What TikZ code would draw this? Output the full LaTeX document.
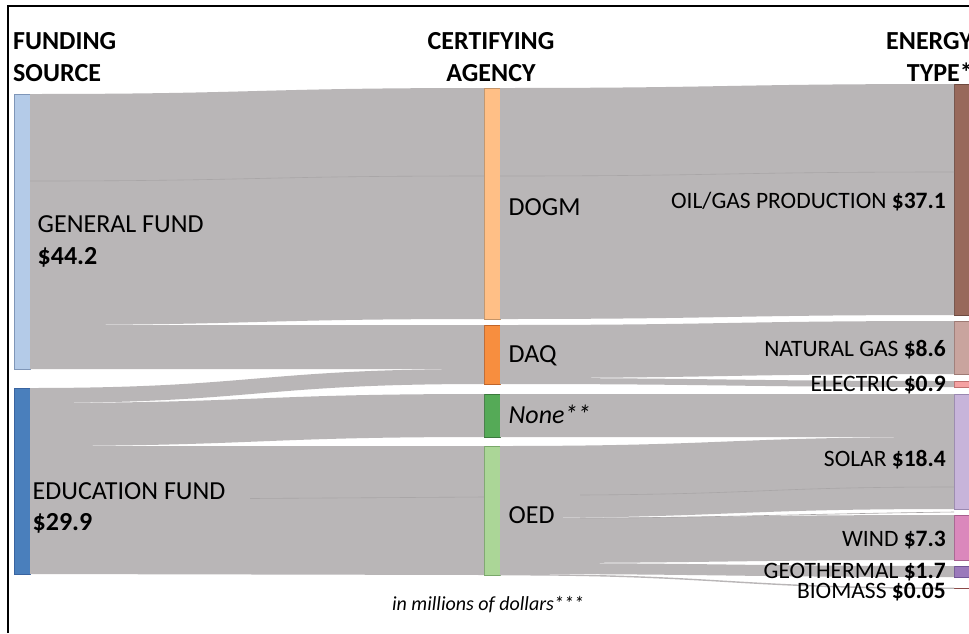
\documentclass[tikz,border=0pt]{standalone}
\usepackage{fontspec}
\setmainfont{Carlito}
\usetikzlibrary{calc}
\definecolor{flowc}{HTML}{B9B6B7}
\definecolor{seamc}{HTML}{A9A6A7}
\definecolor{gfc}{HTML}{B4CBE8}\definecolor{gfd}{HTML}{7F96B8}
\definecolor{efc}{HTML}{4A7FBC}\definecolor{efd}{HTML}{3A64A0}
\definecolor{dogmc}{HTML}{FFBF86}\definecolor{dogmd}{HTML}{C49468}
\definecolor{daqc}{HTML}{F78E3F}\definecolor{daqd}{HTML}{C0652A}
\definecolor{nonec}{HTML}{55AA57}\definecolor{noned}{HTML}{3C7A3E}
\definecolor{oedc}{HTML}{ABD697}\definecolor{oedd}{HTML}{7AA86A}
\definecolor{oilc}{HTML}{98695B}\definecolor{oild}{HTML}{6E4A40}
\definecolor{ngc}{HTML}{C9A49E}\definecolor{ngd}{HTML}{9E7A74}
\definecolor{elc}{HTML}{F5A1A2}\definecolor{eld}{HTML}{C07070}
\definecolor{solc}{HTML}{C7B4DA}\definecolor{sold}{HTML}{9A88B0}
\definecolor{windc}{HTML}{DB88BC}\definecolor{windd}{HTML}{A8608F}
\definecolor{geoc}{HTML}{9B79BB}\definecolor{geod}{HTML}{725596}
\definecolor{bioc}{HTML}{8B4A48}
\newcommand\sankeyflow[6]{%
  \fill[flowfill] let \p1=(#1.north east), \p2=(#4.north west), \n1={(\x1+\x2)/2} in
    (\x1,\y1-#2pt) .. controls (\n1,\y1-#2pt) and (\n1,\y2-#5pt) .. (\x2,\y2-#5pt)
    -- (\x2,\y2-#6pt) .. controls (\n1,\y2-#6pt) and (\n1,\y1-#3pt) .. (\x1,\y1-#3pt) -- cycle;}
\begin{document}
\begin{tikzpicture}[x=1pt,y=-1pt,
  flowfill/.style={fill=flowc},
  seam/.style={draw=seamc,line width=0.6pt},
  bar/.style={rectangle,inner sep=0pt,outer sep=0pt,minimum width=16pt,line width=0.8pt,anchor=north west},
  title/.style={font=\fontsize{26}{31}\selectfont\bfseries,inner sep=0pt},
  lab/.style={font=\fontsize{26}{31}\selectfont,inner sep=0pt,anchor=base west},
  rlab/.style={font=\fontsize{23.5}{28}\selectfont,inner sep=0pt,anchor=base east},
  note/.style={font=\fontsize{20}{24}\selectfont\itshape,inner sep=0pt,anchor=base}]
\useasboundingbox (0,0) rectangle (969,633);
\clip (0,0) rectangle (969,633);
\fill[white] (0,0) rectangle (969,633);
% bars
\node[bar,fill=gfc,draw=gfd,minimum height=275pt] (gf) at (14,94) {};
\node[bar,fill=efc,draw=efd,minimum height=186pt] (ef) at (14,388) {};
\node[bar,fill=dogmc,draw=dogmd,minimum height=231pt] (dogm) at (484,88) {};
\node[bar,fill=daqc,draw=daqd,minimum height=59pt] (daq) at (484,325) {};
\node[bar,fill=nonec,draw=noned,minimum height=43pt] (none) at (484,394) {};
\node[bar,fill=oedc,draw=oedd,minimum height=129pt] (oed) at (484,446) {};
\node[bar,fill=oilc,draw=oild,minimum height=231pt] (oil) at (954,84) {};
\node[bar,fill=ngc,draw=ngd,minimum height=53pt] (ng) at (954,321) {};
\node[bar,fill=elc,draw=eld,minimum height=6pt] (el) at (954,381) {};
\node[bar,fill=solc,draw=sold,minimum height=115pt] (sol) at (954,394) {};
\node[bar,fill=windc,draw=windd,minimum height=45pt] (wind) at (954,515) {};
\node[bar,fill=geoc,draw=geod,minimum height=11pt] (geo) at (954,566) {};
\node[bar,fill=bioc,draw=none,minimum height=1.4pt] (bio) at (954,587.5) {};
% flows
\sankeyflow{gf}{0}{231}{dogm}{0}{231}
\sankeyflow{gf}{231}{275}{daq}{0}{44}
\sankeyflow{ef}{0}{15}{daq}{44}{59}
\sankeyflow{ef}{15}{58}{none}{0}{43}
\sankeyflow{ef}{58}{186}{oed}{0}{129}
\sankeyflow{dogm}{0}{231}{oil}{0}{231}
\sankeyflow{daq}{0}{53}{ng}{0}{53}
\sankeyflow{daq}{53}{59}{el}{0}{6}
\sankeyflow{none}{0}{43}{sol}{0}{43}
\sankeyflow{oed}{0}{72}{sol}{43}{115}
\sankeyflow{oed}{72}{117}{wind}{0}{45}
\sankeyflow{oed}{117}{128}{geo}{0}{11}
\sankeyflow{oed}{128}{129.4}{bio}{0}{1.4}
% faint seams
\draw[seam] (30,181) .. controls (257,181) and (257,176) .. (484,176);
\draw[seam] (500,176) .. controls (727,176) and (727,172) .. (954,172);
\draw[seam] (250,498.5) -- (484,497);
\draw[seam] (580,495) .. controls (767,494) and (767,487) .. (954,487);
\draw[seam] (580,518) .. controls (700,518) and (800,514) .. (954,512);
% frame
\draw[line width=1.6pt] (8,633) -- (8,5.8) -- (969,5.8);
% titles
\node[title,anchor=base west] (t1a) at (13,49) {FUNDING};
\node[title,anchor=base west] (t1b) at (13,81) {SOURCE};
\node[title,anchor=base] (t2a) at (491,49) {CERTIFYING};
\node[title,anchor=base] (t2b) at (491,81) {AGENCY};
\node[title,anchor=base east] (t3a) at (973,49) {ENERGY};
\node[title,anchor=base east] (t3b) at (973,81) {TYPE*};
% left labels
\node[lab] (lgf) at (37.5,232) {GENERAL FUND};
\node[lab] (lgfv) at (37.5,264) {\bfseries \$44.2};
\node[lab] (lef) at (32.5,499) {EDUCATION FUND};
\node[lab] (lefv) at (32.5,530) {\bfseries \$29.9};
% middle labels
\node[lab] (ldogm) at (508.5,215) {DOGM};
\node[lab] (ldaq) at (508.5,362) {DAQ};
\node[lab] (lnone) at (508.5,423) {\itshape None**};
\node[lab] (loed) at (508.5,523) {OED};
% right labels
\node[rlab] (loil) at (946,208) {OIL/GAS PRODUCTION \textbf{\$37.1}};
\node[rlab] (lng) at (946,356) {NATURAL GAS \textbf{\$8.6}};
\node[rlab] (lel) at (946,391) {ELECTRIC \textbf{\$0.9}};
\node[rlab] (lsol) at (946,466) {SOLAR \textbf{\$18.4}};
\node[rlab] (lwind) at (946,546) {WIND \textbf{\$7.3}};
\node[rlab] (lgeo) at (946,578) {GEOTHERMAL \textbf{\$1.7}};
\node[rlab] (lbio) at (946,598) {BIOMASS \textbf{\$0.05}};
% note
\node[note] (nt) at (488,610) {in millions of dollars***};
\end{tikzpicture}
\end{document}
